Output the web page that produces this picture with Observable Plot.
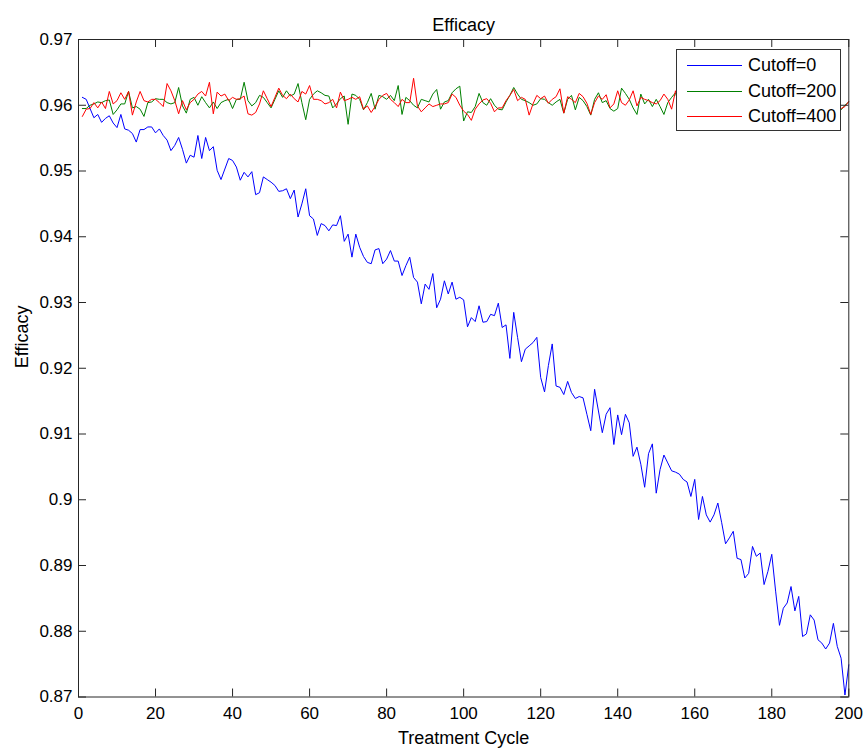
<!DOCTYPE html>
<html>
<head>
<meta charset="utf-8">
<script src="https://cdn.jsdelivr.net/npm/d3@7"></script>
<script src="https://cdn.jsdelivr.net/npm/@observablehq/plot@0.6"></script>
<style>
  html, body { margin: 0; padding: 0; background: #fff; }
  #wrap { position: relative; width: 864px; height: 751px; font-family: "Liberation Sans", Arial, Helvetica, sans-serif; }
  #legend { position: absolute; left: 676px; top: 49px; width: 165px; height: 82px; box-sizing: border-box; border: 1px solid #333; background: #fff; }
  #legend svg { position: absolute; left: 0; top: 0; }
  .lg-text { position: absolute; left: 71px; font-size: 18px; line-height: 20px; color: #000; white-space: nowrap; }
</style>
</head>
<body>
<div id="wrap"></div>
<script>
// ---- data ----
const chartTitle = "Efficacy";
const xLabel = "Treatment Cycle";
const yLabel = "Efficacy";
const seriesNames = ["Cutoff=0", "Cutoff=200", "Cutoff=400"];
const seriesColors = ["#0000ff", "#008000", "#ff0000"];
const xTicks = [0, 20, 40, 60, 80, 100, 120, 140, 160, 180, 200];
const yTicks = [0.87, 0.88, 0.89, 0.90, 0.91, 0.92, 0.93, 0.94, 0.95, 0.96, 0.97];
const cycles = d3.range(1, 201);

const cutoff0 = [
0.9612,0.9609,0.9595,0.9581,0.9586,0.9574,0.9580,0.9584,0.9573,0.9566,
0.9586,0.9564,0.9562,0.9557,0.9544,0.9563,0.9563,0.9567,0.9567,0.9558,
0.9564,0.9554,0.9547,0.9531,0.9539,0.9551,0.9533,0.9512,0.9524,0.9521,
0.9554,0.9519,0.9551,0.9531,0.9537,0.9501,0.9487,0.9503,0.9519,0.9516,
0.9506,0.9486,0.9498,0.9491,0.9499,0.9464,0.9467,0.9491,0.9487,0.9483,
0.9478,0.9469,0.9470,0.9473,0.9458,0.9471,0.9430,0.9450,0.9473,0.9432,
0.9427,0.9402,0.9420,0.9417,0.9409,0.9418,0.9417,0.9432,0.9393,0.9404,
0.9369,0.9404,0.9384,0.9370,0.9361,0.9359,0.9380,0.9382,0.9359,0.9366,
0.9379,0.9363,0.9363,0.9341,0.9356,0.9369,0.9338,0.9331,0.9298,0.9328,
0.9320,0.9344,0.9292,0.9305,0.9333,0.9313,0.9331,0.9305,0.9308,0.9304,
0.9263,0.9277,0.9271,0.9295,0.9270,0.9271,0.9282,0.9280,0.9299,0.9262,
0.9266,0.9215,0.9285,0.9247,0.9210,0.9229,0.9234,0.9239,0.9247,0.9186,
0.9164,0.9204,0.9237,0.9173,0.9171,0.9160,0.9180,0.9163,0.9154,0.9157,
0.9155,0.9130,0.9105,0.9168,0.9135,0.9102,0.9130,0.9140,0.9084,0.9129,
0.9099,0.9130,0.9117,0.9066,0.9080,0.9054,0.9019,0.9070,0.9085,0.9010,
0.9046,0.9068,0.9056,0.9044,0.9042,0.9039,0.9031,0.9027,0.9005,0.9031,
0.8970,0.9005,0.8977,0.8966,0.8977,0.8995,0.8965,0.8933,0.8942,0.8952,
0.8911,0.8909,0.8881,0.8888,0.8929,0.8914,0.8919,0.8871,0.8891,0.8917,
0.8861,0.8809,0.8835,0.8843,0.8868,0.8831,0.8853,0.8792,0.8796,0.8825,
0.8817,0.8787,0.8782,0.8773,0.8782,0.8812,0.8777,0.8759,0.8703,0.8749
];

const cutoff200 = [
0.9595,0.9595,0.9600,0.9602,0.9605,0.9604,0.9607,0.9608,0.9586,0.9593,
0.9602,0.9602,0.9621,0.9596,0.9598,0.9594,0.9583,0.9604,0.9605,0.9610,
0.9609,0.9609,0.9604,0.9602,0.9604,0.9627,0.9599,0.9588,0.9609,0.9612,
0.9600,0.9613,0.9604,0.9596,0.9605,0.9595,0.9604,0.9607,0.9609,0.9595,
0.9609,0.9609,0.9635,0.9607,0.9599,0.9604,0.9615,0.9612,0.9604,0.9596,
0.9609,0.9622,0.9612,0.9622,0.9614,0.9617,0.9633,0.9604,0.9578,0.9609,
0.9617,0.9622,0.9619,0.9615,0.9614,0.9596,0.9602,0.9610,0.9614,0.9571,
0.9617,0.9615,0.9609,0.9593,0.9604,0.9618,0.9594,0.9615,0.9613,0.9609,
0.9615,0.9607,0.9630,0.9586,0.9612,0.9607,0.9600,0.9596,0.9609,0.9607,
0.9605,0.9617,0.9624,0.9594,0.9605,0.9607,0.9619,0.9625,0.9629,0.9576,
0.9590,0.9589,0.9598,0.9618,0.9604,0.9600,0.9610,0.9600,0.9594,0.9593,
0.9605,0.9615,0.9627,0.9617,0.9609,0.9607,0.9604,0.9600,0.9602,0.9610,
0.9609,0.9604,0.9600,0.9605,0.9609,0.9588,0.9609,0.9615,0.9593,0.9612,
0.9607,0.9598,0.9585,0.9609,0.9619,0.9604,0.9607,0.9595,0.9591,0.9595,
0.9626,0.9618,0.9609,0.9596,0.9586,0.9617,0.9602,0.9609,0.9598,0.9609,
0.9598,0.9586,0.9604,0.9612,0.9619,0.9598,0.9608,0.9615,0.9593,0.9604,
0.9610,0.9587,0.9606,0.9600,0.9613,0.9596,0.9605,0.9618,0.9592,0.9603,
0.9609,0.9584,0.9607,0.9601,0.9612,0.9597,0.9606,0.9593,0.9610,0.9603,
0.9616,0.9599,0.9589,0.9608,0.9604,0.9611,0.9595,0.9602,0.9614,0.9598,
0.9606,0.9590,0.9609,0.9601,0.9596,0.9607,0.9600,0.9593,0.9600,0.9605
];

const cutoff400 = [
0.9583,0.9594,0.9595,0.9604,0.9596,0.9605,0.9595,0.9621,0.9602,0.9607,
0.9619,0.9609,0.9621,0.9585,0.9605,0.9621,0.9607,0.9605,0.9609,0.9609,
0.9604,0.9598,0.9633,0.9622,0.9607,0.9587,0.9607,0.9593,0.9604,0.9609,
0.9617,0.9621,0.9614,0.9635,0.9587,0.9620,0.9614,0.9617,0.9607,0.9612,
0.9609,0.9610,0.9614,0.9587,0.9585,0.9589,0.9602,0.9622,0.9610,0.9598,
0.9612,0.9626,0.9615,0.9610,0.9617,0.9610,0.9605,0.9621,0.9617,0.9630,
0.9609,0.9609,0.9607,0.9602,0.9604,0.9609,0.9596,0.9620,0.9607,0.9609,
0.9612,0.9609,0.9613,0.9594,0.9599,0.9589,0.9598,0.9609,0.9615,0.9618,
0.9609,0.9604,0.9598,0.9609,0.9604,0.9604,0.9641,0.9599,0.9590,0.9596,
0.9602,0.9598,0.9600,0.9602,0.9602,0.9604,0.9617,0.9612,0.9600,0.9591,
0.9586,0.9577,0.9594,0.9602,0.9608,0.9610,0.9603,0.9590,0.9596,0.9596,
0.9607,0.9615,0.9624,0.9607,0.9612,0.9609,0.9585,0.9602,0.9615,0.9610,
0.9614,0.9603,0.9609,0.9613,0.9625,0.9588,0.9613,0.9609,0.9604,0.9618,
0.9613,0.9603,0.9586,0.9604,0.9614,0.9609,0.9616,0.9596,0.9602,0.9622,
0.9604,0.9600,0.9608,0.9622,0.9599,0.9612,0.9609,0.9607,0.9604,0.9602,
0.9607,0.9617,0.9609,0.9594,0.9622,0.9603,0.9611,0.9597,0.9606,0.9614,
0.9600,0.9592,0.9608,0.9619,0.9601,0.9596,0.9610,0.9605,0.9589,0.9612,
0.9607,0.9599,0.9615,0.9603,0.9594,0.9609,0.9620,0.9600,0.9605,0.9592,
0.9611,0.9606,0.9598,0.9613,0.9602,0.9595,0.9608,0.9617,0.9601,0.9604,
0.9590,0.9609,0.9612,0.9600,0.9606,0.9597,0.9603,0.9595,0.9598,0.9606
];

// ---- table built from the arrays ----
const seriesValues = [cutoff0, cutoff200, cutoff400];
const table = [];
seriesNames.forEach((name, s) => {
  cycles.forEach((c, i) => table.push({cycle: c, value: seriesValues[s][i], series: name}));
});

// ---- layout ----
const W = 864, H = 751;
const mT = 39, mB = 54.5, mL = 78, mR = 15.7;
const frameW = W - mL - mR, frameH = H - mT - mB;
const tickLen = 8;
const axisColor = "#262626";

const chart = Plot.plot({
  width: W,
  height: H,
  marginTop: mT,
  marginBottom: mB,
  marginLeft: mL,
  marginRight: mR,
  style: {fontFamily: '"Liberation Sans", Arial, Helvetica, sans-serif', fontSize: "17px", color: "#000", background: "#fff"},
  x: {domain: [0, 200]},
  y: {domain: [0.87, 0.97]},
  color: {domain: seriesNames, range: seriesColors},
  marks: [
    Plot.line(table, {x: "cycle", y: "value", z: "series", stroke: "series", strokeWidth: 1}),
    // inward ticks on all four sides
    Plot.ruleX(xTicks, {x: d => d, insetTop: frameH - tickLen, stroke: axisColor}),
    Plot.ruleX(xTicks, {x: d => d, insetBottom: frameH - tickLen, stroke: axisColor}),
    Plot.ruleY(yTicks, {y: d => d, insetRight: frameW - tickLen, stroke: axisColor}),
    Plot.ruleY(yTicks, {y: d => d, insetLeft: frameW - tickLen, stroke: axisColor}),
    Plot.frame({stroke: axisColor}),
    Plot.axisX({ticks: xTicks, tickSize: 0, tickPadding: 10, label: null, fontSize: 17}),
    Plot.axisY({ticks: yTicks, tickSize: 0, tickPadding: 6, label: null, fontSize: 17,
                tickFormat: d => String(+d.toFixed(2))}),
    Plot.text([chartTitle], {text: d => d, frameAnchor: "top", dy: -21, fontSize: 18}),
    Plot.text([xLabel], {text: d => d, frameAnchor: "bottom", dy: 47, fontSize: 18}),
    Plot.text([yLabel], {text: d => d, frameAnchor: "left", rotate: -90, dx: -56, fontSize: 18})
  ]
});

const wrap = document.getElementById("wrap");
wrap.appendChild(chart);

// ---- legend (HTML overlay, MATLAB style) ----
const legend = document.createElement("div");
legend.id = "legend";
const rowY = [15.5, 41.5, 66.5];
const svgNS = "http://www.w3.org/2000/svg";
const lsvg = document.createElementNS(svgNS, "svg");
lsvg.setAttribute("width", "165");
lsvg.setAttribute("height", "82");
seriesNames.forEach((name, i) => {
  const ln = document.createElementNS(svgNS, "line");
  ln.setAttribute("x1", "10");
  ln.setAttribute("x2", "65");
  ln.setAttribute("y1", rowY[i]);
  ln.setAttribute("y2", rowY[i]);
  ln.setAttribute("stroke", seriesColors[i]);
  ln.setAttribute("stroke-width", "1");
  lsvg.appendChild(ln);
  const tx = document.createElement("div");
  tx.className = "lg-text";
  tx.style.top = (rowY[i] - 10.5) + "px";
  tx.textContent = name;
  legend.appendChild(tx);
});
legend.appendChild(lsvg);
wrap.appendChild(legend);
</script>
</body>
</html>
